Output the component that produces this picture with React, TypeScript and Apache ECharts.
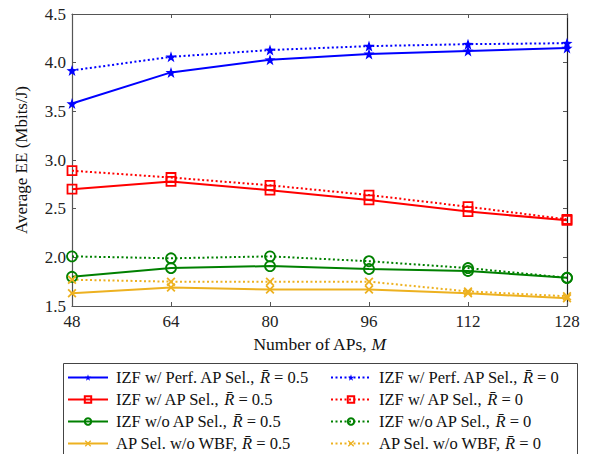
import React, { useEffect, useRef } from "react";
import * as echarts from "echarts";

const apCounts = [48, 64, 80, 96, 112, 128];
const perfSel05 = [3.58, 3.9, 4.03, 4.09, 4.12, 4.15];
const perfSel0 = [3.92, 4.06, 4.13, 4.17, 4.19, 4.2];
const apSel05 = [2.7, 2.78, 2.69, 2.59, 2.47, 2.38];
const apSel0 = [2.89, 2.82, 2.74, 2.64, 2.52, 2.39];
const noSel05 = [1.8, 1.89, 1.91, 1.88, 1.86, 1.79];
const noSel0 = [2.01, 1.99, 2.01, 1.96, 1.89, 1.79];
const noWbf05 = [1.63, 1.69, 1.67, 1.67, 1.63, 1.58];
const noWbf0 = [1.77, 1.75, 1.75, 1.75, 1.65, 1.6];

const yTicks = { min: 1.5, max: 4.5, interval: 0.5 };
const xTicks = { min: 48, max: 128, interval: 16 };

const BLUE = "#0000ff";
const RED = "#ff0000";
const GREEN = "#008000";
const YELLOW = "#edb120";
const AXIS = "#555555";
const FONT = "'Liberation Serif', 'Times New Roman', serif";

const STAR =
  "path://M0,-10L2.35,-3.24L9.51,-3.09L3.8,1.24L5.88,8.09L0,4L-5.88,8.09L-3.8,1.24L-9.51,-3.09L-2.35,-3.24Z";
const CROSS =
  "path://M-5,-3.6L-3.6,-5L0,-1.4L3.6,-5L5,-3.6L1.4,0L5,3.6L3.6,5L0,1.4L-3.6,5L-5,3.6L-1.4,0Z";

type Def = {
  name: string;
  data: number[];
  color: string;
  dotted: boolean;
  symbol: string;
  size: number;
  filled: boolean;
};

const defs: Def[] = [
  { name: "IZF w/ Perf. AP Sel., R̄ = 0.5", data: perfSel05, color: BLUE, dotted: false, symbol: STAR, size: 11, filled: true },
  { name: "IZF w/ AP Sel., R̄ = 0.5", data: apSel05, color: RED, dotted: false, symbol: "rect", size: 9, filled: false },
  { name: "IZF w/o AP Sel., R̄ = 0.5", data: noSel05, color: GREEN, dotted: false, symbol: "circle", size: 10, filled: false },
  { name: "AP Sel. w/o WBF, R̄ = 0.5", data: noWbf05, color: YELLOW, dotted: false, symbol: CROSS, size: 9, filled: true },
  { name: "IZF w/ Perf. AP Sel., R̄ = 0", data: perfSel0, color: BLUE, dotted: true, symbol: STAR, size: 11, filled: true },
  { name: "IZF w/ AP Sel., R̄ = 0", data: apSel0, color: RED, dotted: true, symbol: "rect", size: 9, filled: false },
  { name: "IZF w/o AP Sel., R̄ = 0", data: noSel0, color: GREEN, dotted: true, symbol: "circle", size: 10, filled: false },
  { name: "AP Sel. w/o WBF, R̄ = 0", data: noWbf0, color: YELLOW, dotted: true, symbol: CROSS, size: 9, filled: true },
];

export default function App() {
  const ref = useRef<HTMLDivElement>(null);
  useEffect(() => {
    if (!ref.current) return;
    const chart = echarts.init(ref.current, undefined, { renderer: "svg" });
    const series = defs.map((d) => ({
      name: d.name,
      type: "line",
      xAxisIndex: 0,
      yAxisIndex: 0,
      data: d.data.map((v, i) => [apCounts[i], v]),
      symbol: d.symbol,
      symbolSize: d.size,
      showSymbol: true,
      lineStyle: { color: d.color, width: 2, type: d.dotted ? [2, 2.5] : "solid" },
      itemStyle: d.filled
        ? { color: d.color, borderWidth: 0 }
        : { color: "rgba(255,255,255,0)", borderColor: d.color, borderWidth: 1.8 },
      emphasis: { disabled: true },
    }));
    const legendText = {
      fontFamily: FONT,
      fontSize: 16.5,
      lineHeight: 14,
      color: "#111",
      padding: [0, 0, 0, 3],
      rich: {
        i: { fontFamily: FONT, fontStyle: "italic", fontSize: 16.5, lineHeight: 14, color: "#111" },
      },
    };
    const fmt = (name: string) => name.replace("R̄", "{i|R̄}");
    const axisLabel = { fontFamily: FONT, fontSize: 17, color: "#222" };
    const legendCommon = {
      orient: "vertical",
      top: 369,
      height: 120,
      itemWidth: 40,
      itemHeight: 8,
      itemGap: 5,
      padding: 0,
      textStyle: legendText,
      formatter: fmt,
      selectedMode: false,
    };
    chart.setOption({
      animation: false,
      backgroundColor: "#fff",
      grid: { left: 72, right: 22, top: 14, bottom: 148, containLabel: false },
      xAxis: [
        {
          type: "value",
          ...xTicks,
          position: "bottom",
          name: "Number of APs, {i|M}",
          nameLocation: "middle",
          nameGap: 29,
          nameTextStyle: {
            fontFamily: FONT,
            fontSize: 17.5,
            color: "#111",
            rich: { i: { fontFamily: FONT, fontStyle: "italic", fontSize: 17.5, color: "#111" } },
          },
          axisLine: { show: true, onZero: false, lineStyle: { color: AXIS, width: 1.2 } },
          axisTick: { show: true, inside: true, length: 4, lineStyle: { color: AXIS } },
          axisLabel: { ...axisLabel, margin: 7 },
          splitLine: { show: false },
        },
        {
          type: "value",
          ...xTicks,
          position: "top",
          axisLine: { show: true, onZero: false, lineStyle: { color: AXIS, width: 1.2 } },
          axisTick: { show: true, inside: true, length: 4, lineStyle: { color: AXIS } },
          axisLabel: { show: false },
          splitLine: { show: false },
        },
      ],
      yAxis: [
        {
          type: "value",
          ...yTicks,
          position: "left",
          name: "Average EE (Mbits/J)",
          nameLocation: "middle",
          nameGap: 42,
          nameTextStyle: { fontFamily: FONT, fontSize: 17, color: "#111" },
          axisLine: { show: true, onZero: false, lineStyle: { color: AXIS, width: 1.2 } },
          axisTick: { show: true, inside: true, length: 4, lineStyle: { color: AXIS } },
          axisLabel: { ...axisLabel, margin: 6, formatter: (v: number) => v.toFixed(1) },
          splitLine: { show: false },
        },
        {
          type: "value",
          ...yTicks,
          position: "right",
          axisLine: { show: true, onZero: false, lineStyle: { color: "#222", width: 1.2 } },
          axisTick: { show: true, inside: true, length: 4, lineStyle: { color: AXIS } },
          axisLabel: { show: false },
          splitLine: { show: false },
        },
      ],
      legend: [
        { ...legendCommon, data: defs.slice(0, 4).map((d) => d.name), left: 67 },
        { ...legendCommon, data: defs.slice(4).map((d) => d.name), left: 330 },
      ],
      graphic: [
        {
          type: "rect",
          shape: { x: 63.5, y: 363.5, width: 514, height: 100 },
          style: { fill: "none", stroke: "#444", lineWidth: 1 },
          silent: true,
        },
      ],
      series,
    });
    return () => chart.dispose();
  }, []);
  return <div ref={ref} style={{ width: 589, height: 454, position: "fixed", left: 0, top: 0 }} />;
}
